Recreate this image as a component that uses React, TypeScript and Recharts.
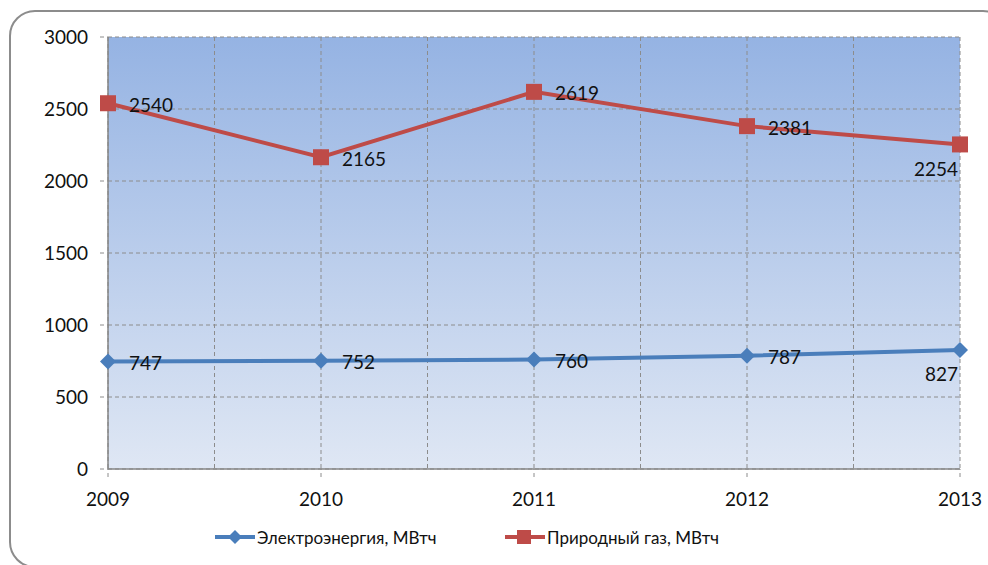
import React from 'react';
import { LineChart, Line, XAxis, YAxis, CartesianGrid, LabelList, Legend } from 'recharts';

const years = [2009, 2010, 2011, 2012, 2013];
const electricity = [747, 752, 760, 787, 827];
const gas = [2540, 2165, 2619, 2381, 2254];
const yTicks = [0, 500, 1000, 1500, 2000, 2500, 3000];
const seriesNames = ['Электроэнергия, МВтч', 'Природный газ, МВтч'];
const colors = ['#4a7ebb', '#be4b48'];

const data = years.map((y, i) => ({ year: y, el: electricity[i], gas: gas[i] }));
const gridX = years.flatMap((y, i) => (i < years.length - 1 ? [y, y + 0.5] : [y]));

const FONT = 'Lato, "Open Sans", sans-serif';

const makeLabel = (props: any) => {
  const { x, y, value, index } = props;
  if (index === years.length - 1) {
    return (
      <text x={x - 2} y={y + 24} textAnchor="end" dominantBaseline="central" fontSize={19} fontFamily={FONT} fill="#111">
        {value}
      </text>
    );
  }
  return (
    <text x={x + 21} y={y + 1} textAnchor="start" dominantBaseline="central" fontSize={19} fontFamily={FONT} fill="#111">
      {value}
    </text>
  );
};

const Diamond = (props: any) => {
  const { cx, cy } = props;
  const r = 8;
  return <path d={`M${cx},${cy - r}L${cx + r},${cy}L${cx},${cy + r}L${cx - r},${cy}Z`} fill={colors[0]} />;
};

const Square = (props: any) => {
  const { cx, cy } = props;
  const s = 8;
  return <rect x={cx - s} y={cy - s} width={2 * s} height={2 * s} fill={colors[1]} />;
};

const LegendContent = () => (
  <div style={{ display: 'flex', alignItems: 'center', paddingLeft: 215, fontFamily: FONT, fontSize: 17, color: '#111', height: 40 }}>
    <svg width={40} height={16} style={{ display: 'block', flex: 'none' }}>
      <line x1={0} y1={8} x2={40} y2={8} stroke={colors[0]} strokeWidth={4} />
      <path d="M20,1L27,8L20,15L13,8Z" fill={colors[0]} />
    </svg>
    <span style={{ marginLeft: 2, width: 248, flex: 'none' }}>{seriesNames[0]}</span>
    <svg width={40} height={16} style={{ display: 'block', flex: 'none' }}>
      <line x1={0} y1={8} x2={40} y2={8} stroke={colors[1]} strokeWidth={4} />
      <rect x={12} y={1} width={14} height={14} fill={colors[1]} />
    </svg>
    <span style={{ marginLeft: 2 }}>{seriesNames[1]}</span>
  </div>
);

export default function App() {
  return (
    <div style={{ position: 'fixed', left: 0, top: 0, width: 988, height: 565, overflow: 'hidden', background: '#fff' }}>
      <div
        style={{
          position: 'absolute',
          left: 9,
          top: 10,
          width: 1000,
          height: 558,
          border: '2px solid #8c8c8c',
          borderRadius: 26,
          boxSizing: 'border-box',
        }}
      />
      <div style={{ position: 'absolute', left: 0, top: 0 }}>
        <LineChart width={988} height={565} data={data} margin={{ top: 37, right: 28, bottom: 8, left: 0 }}>
          <defs>
            <linearGradient id="bgGrad" x1="0" y1="0" x2="0" y2="1">
              <stop offset="0%" stopColor="#95b3e3" />
              <stop offset="100%" stopColor="#dfe7f4" />
            </linearGradient>
          </defs>
          <CartesianGrid
            fill="url(#bgGrad)"
            fillOpacity={1}
            stroke="#8c8c8c"
            strokeDasharray="4 3"
            verticalValues={gridX}
            horizontalValues={yTicks}
          />
          <XAxis
            dataKey="year"
            type="number"
            domain={[2009, 2013]}
            ticks={years}
            height={48}
            axisLine={{ stroke: '#868686', strokeWidth: 1.5 }}
            tickLine={{ stroke: '#8c8c8c', strokeDasharray: '4 3' }}
            tickSize={8}
            tickMargin={16}
            tick={{ fontSize: 19, fontFamily: FONT, fill: '#111' }}
            allowDecimals={false}
          />
          <YAxis
            domain={[0, 3000]}
            ticks={yTicks}
            width={108}
            axisLine={{ stroke: '#868686', strokeWidth: 1.5 }}
            tickLine={{ stroke: '#8c8c8c', strokeDasharray: '4 3' }}
            tickSize={8}
            tickMargin={12}
            tick={{ fontSize: 19, fontFamily: FONT, fill: '#111' }}
          />
          <Legend verticalAlign="bottom" height={40} wrapperStyle={{ left: 0, width: 988 }} content={LegendContent} />
          <Line
            dataKey="el"
            name={seriesNames[0]}
            stroke={colors[0]}
            strokeWidth={4}
            dot={<Diamond />}
            isAnimationActive={false}
          >
            <LabelList dataKey="el" content={makeLabel} />
          </Line>
          <Line
            dataKey="gas"
            name={seriesNames[1]}
            stroke={colors[1]}
            strokeWidth={4}
            dot={<Square />}
            isAnimationActive={false}
          >
            <LabelList dataKey="gas" content={makeLabel} />
          </Line>
        </LineChart>
      </div>
    </div>
  );
}
